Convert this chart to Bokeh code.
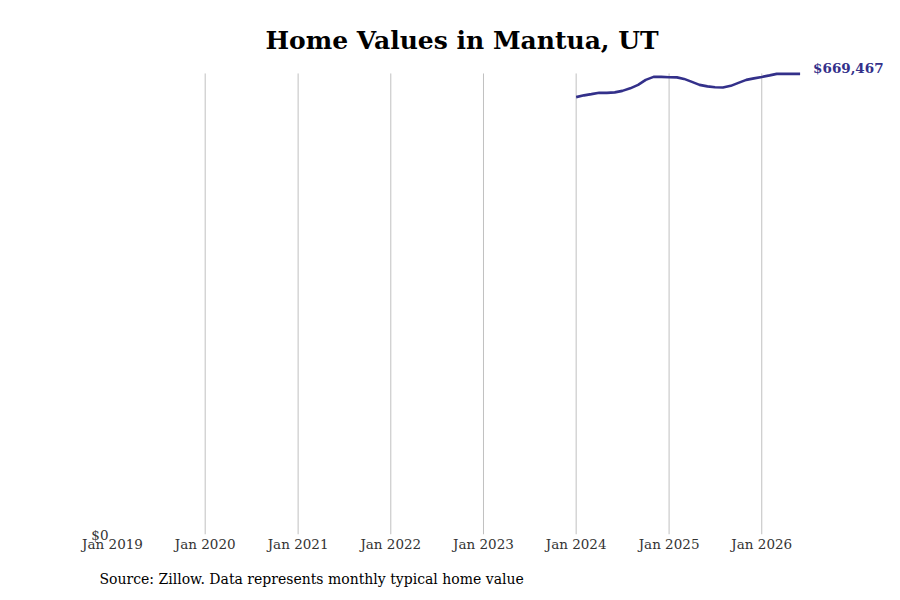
import pandas as pd
from bokeh.plotting import figure
from bokeh.models import FixedTicker, DatetimeTickFormatter, Range1d, NumeralTickFormatter, Title
from bokeh.core.properties import value
from bokeh.embed import file_html
from bokeh.resources import INLINE

# ---- data ----
dates = pd.date_range("2024-01-01", periods=30, freq="MS")
values = [635600, 638200, 640000, 642000, 641800, 642500, 644700, 648400,
          653400, 660700, 665000, 665000, 664600, 664300, 662100, 657800,
          653400, 651200, 650000, 649500, 652000, 656300, 660700, 662900,
          665000, 667200, 669400, 669467, 669467, 669467]
tick_years = [2019, 2020, 2021, 2022, 2023, 2024, 2025, 2026]
title_text = "Home Values in Mantua, UT"
source_text = "Source: Zillow. Data represents monthly typical home value"
end_label = "$669,467"

LINE = "#33308a"
FONT = "DejaVu Serif"
GRID = "#c0c0c0"

W, H = 900, 600
LEFT, RIGHT, TOP, BOTTOM = 112, 10, 56, 65
GRID_TOP = 670000  # value axis top (where the grid lines stop)
# frame extends a little above the grid so that the end label is not clipped
Y_MAX = GRID_TOP * (H - BOTTOM - TOP) / (H - BOTTOM - 73)

x_start = pd.Timestamp("2019-01-01")
x_end_data = dates[-1]
# extend the range so that the space right of the line (for the end label) is inside the frame
span = (x_end_data - x_start) * ((W - RIGHT - LEFT) / 687.6)
x_end = x_start + span

p = figure(width=W, height=H, output_backend="svg", toolbar_location=None,
           x_axis_type="datetime",
           x_range=Range1d(x_start, x_end), y_range=Range1d(0, Y_MAX),
           min_border_left=LEFT, min_border_right=RIGHT, min_border_top=TOP, min_border_bottom=BOTTOM)
p.outline_line_color = None
p.background_fill_color = "white"
p.border_fill_color = "white"

tick_dates = [pd.Timestamp(f"{y}-01-01") for y in tick_years]

# vertical year grid lines (stopping at the top of the value axis)
grid_x = tick_dates[1:]
p.segment(x0=grid_x, y0=[0] * len(grid_x), x1=grid_x, y1=[GRID_TOP] * len(grid_x),
          line_color=GRID, line_width=1)

p.line(dates, values, line_color=LINE, line_width=2.6)

# end-of-line value label
p.text(x=[dates[-1]], y=[values[-1]], text=[end_label], x_offset=13, y_offset=2,
       text_font=value(FONT), text_font_style="bold", text_font_size="13.5px",
       text_color=LINE, text_baseline="bottom", text_align="left")

tick_ms = [t.value / 1e6 for t in tick_dates]
p.xaxis.ticker = FixedTicker(ticks=tick_ms)
p.xaxis.formatter = DatetimeTickFormatter(years="%b %Y", months="%b %Y", days="%b %Y",
                                          hours="%b %Y", minutes="%b %Y")
p.xgrid.grid_line_color = None
p.ygrid.grid_line_color = None

for ax in (p.xaxis[0], p.yaxis[0]):
    ax.axis_line_color = None
    ax.major_tick_line_color = None
    ax.minor_tick_line_color = None
    ax.major_label_text_font = FONT
    ax.major_label_text_font_size = "13.5px"
    ax.major_label_text_color = "#333333"
    ax.major_tick_out = 0
    ax.major_tick_in = 0
p.xaxis.major_label_standoff = 1
p.yaxis.ticker = FixedTicker(ticks=[0])
p.yaxis.formatter = NumeralTickFormatter(format="$0,0")
p.yaxis.major_label_standoff = 4

p.title = Title(text=title_text, align="left", offset=153, text_font=FONT,
                text_font_style="bold", text_font_size="25px", text_color="black",
                standoff=3)
p.add_layout(Title(text=source_text, align="left", offset=-13, text_font=FONT,
                   text_font_style="normal", text_font_size="14px", text_color="black",
                   standoff=28), "below")

open("out.html", "w").write(file_html(p, INLINE))
